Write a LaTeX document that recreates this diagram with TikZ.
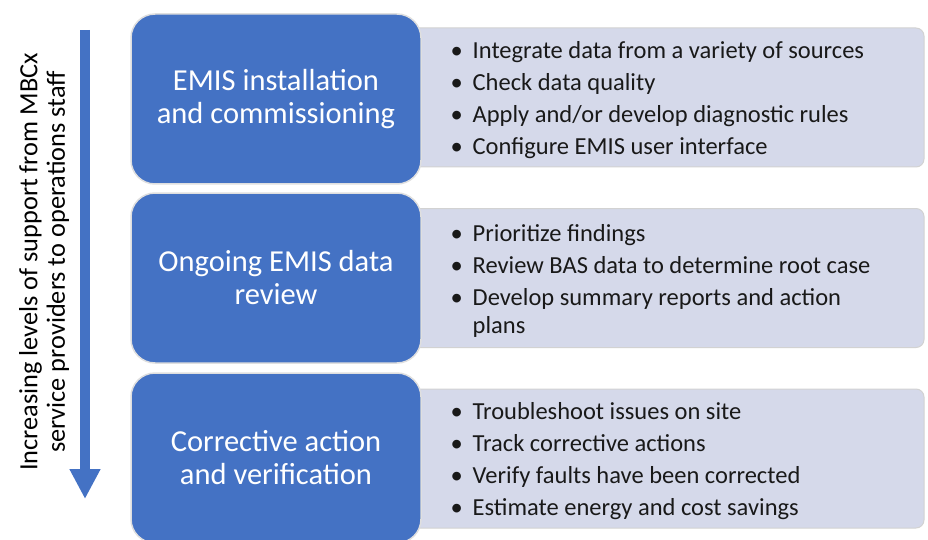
\documentclass[tikz,border=0pt]{standalone}
\usepackage{fontspec}
\setmainfont{Carlito}
\usetikzlibrary{positioning,arrows.meta}
\definecolor{stageblue}{HTML}{4472C4}
\definecolor{taskgrey}{HTML}{D5D9EA}
\newcommand{\itm}[1]{\makebox[22pt][l]{\textbullet}#1}

\begin{document}
\begin{tikzpicture}[x=1pt,y=-1pt]
\tikzstyle{stage}=[draw=gray!25, line width=1.5pt, fill=stageblue, rounded corners=24pt,
  minimum width=290pt, minimum height=170pt, text=white, align=center,
  font=\fontsize{30.5}{33}\selectfont]
\tikzstyle{tasks}=[draw=gray!35, line width=1pt, fill=taskgrey, rounded corners=8pt,
  minimum width=524pt, minimum height=139pt]
\tikzstyle{tasklist}=[inner sep=0pt, align=left, anchor=west, text=black!90,
  font=\fontsize{24.5}{32}\selectfont]
\useasboundingbox (0,0) rectangle (928,540);
\begin{scope}
\clip (0,0) rectangle (928,540);
% grey task boxes behind
\node [tasks] (t1) at (662,97.5) {};
\node [tasks] (t2) at (662,278) {};
\node [tasks] (t3) at (662,458.5) {};
% blue stage boxes
\node [stage] (s1) at (276,99) {EMIS installation\\and commissioning};
\node [stage] (s2) at (276,278) {Ongoing EMIS data\\review};
\node [stage] (s3) at (276,458) {Corrective action\\and verification};
\end{scope}
% task lists
\node [tasklist] (l1) at ([xshift=51pt,yshift=-3pt]t1.west) {\itm{Integrate data from a variety of sources}\\
  \itm{Check data quality}\\
  \itm{Apply and/or develop diagnostic rules}\\
  \itm{Configure EMIS user interface}};
\node [tasklist] (l2) at ([xshift=51pt,yshift=-3pt]t2.west) {\itm{Prioritize findings}\\
  \itm{Review BAS data to determine root case}\\
  \itm{Develop summary reports and action}\\[-4pt]
  \hspace*{22pt}plans};
\node [tasklist] (l3) at ([xshift=51pt,yshift=-3pt]t3.west) {\itm{Troubleshoot issues on site}\\
  \itm{Track corrective actions}\\
  \itm{Verify faults have been corrected}\\
  \itm{Estimate energy and cost savings}};
% support arrow
\coordinate (top) at (85,30);
\coordinate (bot) at (85,499);
\draw [stageblue, line width=10pt, -{Triangle[width=29pt,length=30pt]}] (top) -- (bot);
\node [rotate=90, align=center, font=\fontsize{26.3}{27.5}\selectfont] (side) at (44,262)
  {Increasing levels of support from MBCx\\service providers to operations staff};
\end{tikzpicture}
\end{document}
